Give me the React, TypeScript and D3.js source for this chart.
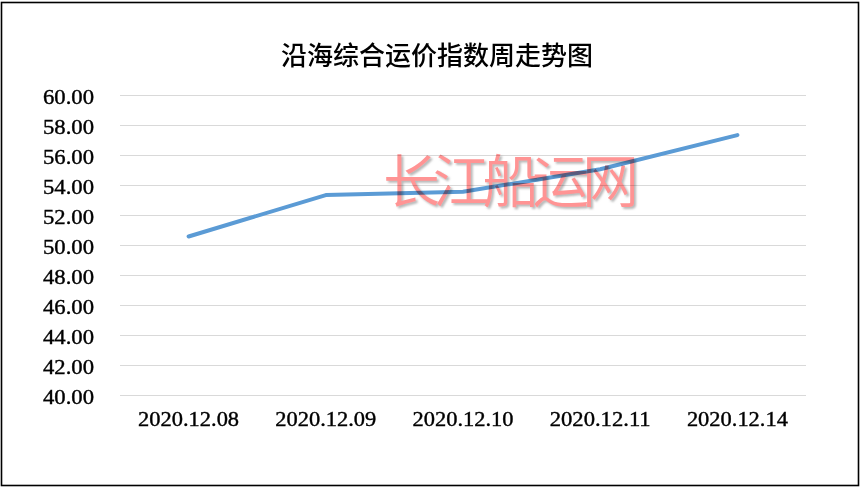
import React from "react";
import * as d3 from "d3";

const categories = ["2020.12.08", "2020.12.09", "2020.12.10", "2020.12.11", "2020.12.14"];
const values = [50.6, 53.36, 53.58, 55.08, 57.36];
const yTicks = [40, 42, 44, 46, 48, 50, 52, 54, 56, 58, 60];
const title = "沿海综合运价指数周走势图";
const watermark = "长江船运网";

const W = 862;
const H = 491;

export default function App() {
  const x = d3.scaleBand<string>().domain(categories).range([120, 806]);
  const y = d3.scaleLinear().domain([40, 60]).range([395.5, 95.5]);
  const line = d3
    .line<number>()
    .x((_, i) => (x(categories[i]) as number) + x.bandwidth() / 2)
    .y((d) => y(d));

  const labelFont = {
    fontFamily: "'Liberation Serif'",
    fontSize: 21,
    fill: "#000",
    stroke: "#000",
    strokeWidth: 0.4,
  };

  return (
    <svg
      width={W}
      height={H}
      style={{ position: "absolute", left: 0, top: 0, background: "#fff" }}
    >
      <defs>
        <filter id="wmshadow" x="-10%" y="-20%" width="120%" height="140%">
          <feGaussianBlur in="SourceAlpha" stdDeviation="1.3" result="b" />
          <feOffset in="b" dx="1.5" dy="1.5" result="o" />
          <feFlood floodColor="#999" floodOpacity="0.7" />
          <feComposite in2="o" operator="in" result="s" />
          <feGaussianBlur in="SourceGraphic" stdDeviation="0.6" result="g" />
          <feMerge>
            <feMergeNode in="s" />
            <feMergeNode in="g" />
          </feMerge>
        </filter>
      </defs>
      <rect x={0} y={0} width={W} height={H} fill="#fff" />
      <rect x={1.5} y={2.5} width={857} height={483} fill="none" stroke="#000" strokeWidth={1.6} />
      <text
        x={437}
        y={53}
        textAnchor="middle"
        dominantBaseline="central"
        fontFamily="'Noto Sans CJK SC'"
        fontSize={26}
        fontWeight={500}
        fill="#000"
      >
        {title}
      </text>
      {yTicks.map((t) => (
        <g key={t}>
          <line x1={120} x2={806} y1={y(t)} y2={y(t)} stroke="#d9d9d9" strokeWidth={1} />
          <text
            x={94}
            y={y(t) + 1.5}
            textAnchor="end"
            dominantBaseline="central"
            textLength={51}
            lengthAdjust="spacingAndGlyphs"
            {...labelFont}
          >
            {t.toFixed(2)}
          </text>
        </g>
      ))}
      {categories.map((c) => (
        <text
          key={c}
          x={(x(c) as number) + x.bandwidth() / 2}
          y={418.5}
          textAnchor="middle"
          dominantBaseline="central"
          textLength={101}
          lengthAdjust="spacingAndGlyphs"
          {...labelFont}
        >
          {c}
        </text>
      ))}
      <path
        d={line(values) || ""}
        fill="none"
        stroke="#5b9bd5"
        strokeWidth={4}
        strokeLinecap="round"
        strokeLinejoin="round"
      />
      <text
        x={511}
        y={177}
        textAnchor="middle"
        dominantBaseline="central"
        fontFamily="'Noto Sans CJK SC'"
        fontWeight={350}
        fontSize={57}
        textLength={256}
        lengthAdjust="spacing"
        fill="#ff9494"
        filter="url(#wmshadow)"
        style={{ mixBlendMode: "multiply" }}
      >
        {watermark}
      </text>
    </svg>
  );
}
